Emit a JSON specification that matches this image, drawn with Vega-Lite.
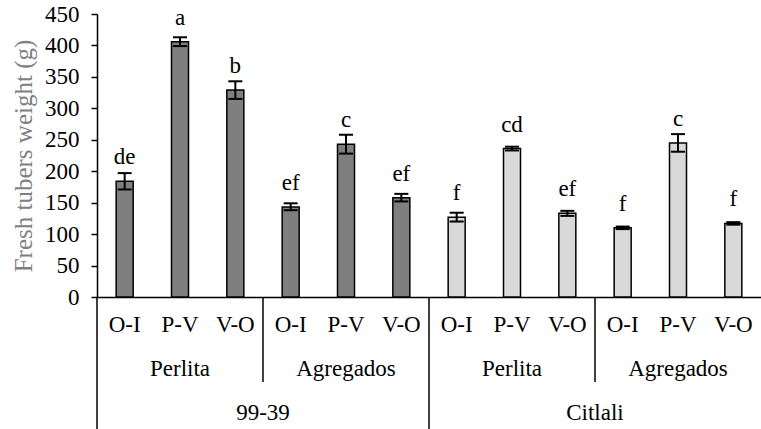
{
  "$schema": "https://vega.github.io/schema/vega-lite/v6.json",
  "width": 664,
  "height": 283,
  "autosize": {"type": "none"},
  "padding": {"left": 97, "top": 14, "right": 0, "bottom": 132},
  "background": "white",
  "config": {
    "view": {"stroke": null},
    "font": "Liberation Serif",
    "text": {"font": "Liberation Serif", "fontSize": 23, "color": "black"},
    "axisY": {
      "tickCount": 9, "labelOverlap": false, "grid": false,
      "domainColor": "black", "domainWidth": 1.5,
      "tickColor": "black", "tickSize": 6, "tickWidth": 1.5,
      "labelFont": "Liberation Serif", "labelFontSize": 23, "labelColor": "black",
      "labelPadding": 12,
      "titleFont": "Liberation Serif", "titleFontSize": 25, "titleFontWeight": "normal",
      "titleColor": "#808080", "titlePadding": 8
    },
    "axisX": {
      "labelAngle": 0, "ticks": false, "tickSize": 0,
      "domainColor": "black", "domainWidth": 1.5,
      "labelFont": "Liberation Serif", "labelFontSize": 23, "labelColor": "black",
      "labelPadding": 16, "grid": false
    }
  },
  "datasets": {
    "bars": [
      {"idx": 1, "cultivar": "99-39", "substrate": "Perlita", "treatment": "O-I", "mean": 184, "lo": 171, "hi": 197, "letter": "de"},
      {"idx": 2, "cultivar": "99-39", "substrate": "Perlita", "treatment": "P-V", "mean": 406, "lo": 399, "hi": 413, "letter": "a"},
      {"idx": 3, "cultivar": "99-39", "substrate": "Perlita", "treatment": "V-O", "mean": 329, "lo": 315, "hi": 343, "letter": "b"},
      {"idx": 4, "cultivar": "99-39", "substrate": "Agregados", "treatment": "O-I", "mean": 143, "lo": 138, "hi": 149, "letter": "ef"},
      {"idx": 5, "cultivar": "99-39", "substrate": "Agregados", "treatment": "P-V", "mean": 243, "lo": 228, "hi": 258, "letter": "c"},
      {"idx": 6, "cultivar": "99-39", "substrate": "Agregados", "treatment": "V-O", "mean": 158, "lo": 152, "hi": 164, "letter": "ef"},
      {"idx": 7, "cultivar": "Citlali", "substrate": "Perlita", "treatment": "O-I", "mean": 127, "lo": 120, "hi": 134, "letter": "f"},
      {"idx": 8, "cultivar": "Citlali", "substrate": "Perlita", "treatment": "P-V", "mean": 236, "lo": 233, "hi": 239, "letter": "cd"},
      {"idx": 9, "cultivar": "Citlali", "substrate": "Perlita", "treatment": "V-O", "mean": 133, "lo": 129, "hi": 137, "letter": "ef"},
      {"idx": 10, "cultivar": "Citlali", "substrate": "Agregados", "treatment": "O-I", "mean": 110, "lo": 108, "hi": 112, "letter": "f"},
      {"idx": 11, "cultivar": "Citlali", "substrate": "Agregados", "treatment": "P-V", "mean": 245, "lo": 231, "hi": 259, "letter": "c"},
      {"idx": 12, "cultivar": "Citlali", "substrate": "Agregados", "treatment": "V-O", "mean": 117, "lo": 115, "hi": 119, "letter": "f"}
    ],
    "substrates": [
      {"idx": 2, "label": "Perlita"},
      {"idx": 5, "label": "Agregados"},
      {"idx": 8, "label": "Perlita"},
      {"idx": 11, "label": "Agregados"}
    ],
    "cultivars": [
      {"idx": 4, "label": "99-39"},
      {"idx": 10, "label": "Citlali"}
    ],
    "seps": [
      {"idx": 1, "bottom": -212},
      {"idx": 4, "bottom": -135},
      {"idx": 7, "bottom": -212},
      {"idx": 10, "bottom": -135}
    ]
  },
  "layer": [
    {
      "data": {"name": "bars"},
      "mark": {"type": "bar", "size": 17, "stroke": "black", "strokeWidth": 1.5},
      "encoding": {
        "x": {
          "field": "idx", "type": "ordinal", "title": null,
          "scale": {"paddingInner": 0, "paddingOuter": 0},
          "axis": {"labelExpr": "['O-I','P-V','V-O'][(datum.value - 1) % 3]"}
        },
        "y": {
          "field": "mean", "type": "quantitative", "title": "Fresh tubers weight (g)",
          "scale": {"domain": [0, 450], "nice": false}
        },
        "color": {
          "field": "cultivar", "type": "nominal",
          "scale": {"domain": ["99-39", "Citlali"], "range": ["#7f7f7f", "#d9d9d9"]},
          "legend": null
        }
      }
    },
    {
      "data": {"name": "bars"},
      "mark": {"type": "rule", "color": "black", "strokeWidth": 2},
      "encoding": {
        "x": {"field": "idx", "type": "ordinal"},
        "y": {"field": "lo", "type": "quantitative"},
        "y2": {"field": "hi"}
      }
    },
    {
      "data": {"name": "bars"},
      "mark": {"type": "tick", "orient": "horizontal", "size": 14, "thickness": 2, "color": "black", "opacity": 1},
      "encoding": {
        "x": {"field": "idx", "type": "ordinal"},
        "y": {"field": "hi", "type": "quantitative"}
      }
    },
    {
      "data": {"name": "bars"},
      "mark": {"type": "tick", "orient": "horizontal", "size": 14, "thickness": 2, "color": "black", "opacity": 1},
      "encoding": {
        "x": {"field": "idx", "type": "ordinal"},
        "y": {"field": "lo", "type": "quantitative"}
      }
    },
    {
      "data": {"name": "bars"},
      "mark": {"type": "text", "baseline": "alphabetic", "dy": -17},
      "encoding": {
        "x": {"field": "idx", "type": "ordinal"},
        "y": {"field": "mean", "type": "quantitative"},
        "text": {"field": "letter"}
      }
    },
    {
      "data": {"name": "seps"},
      "mark": {"type": "rule", "color": "black", "strokeWidth": 1.5},
      "encoding": {
        "x": {"field": "idx", "type": "ordinal", "bandPosition": 0},
        "y": {"field": "bottom", "type": "quantitative"},
        "y2": {"datum": 0}
      }
    },
    {
      "data": {"name": "substrates"},
      "mark": {"type": "text", "baseline": "alphabetic"},
      "encoding": {
        "x": {"field": "idx", "type": "ordinal"},
        "y": {"datum": -126, "type": "quantitative"},
        "text": {"field": "label"}
      }
    },
    {
      "data": {"name": "cultivars"},
      "mark": {"type": "text", "baseline": "alphabetic"},
      "encoding": {
        "x": {"field": "idx", "type": "ordinal", "bandPosition": 0},
        "y": {"datum": -196, "type": "quantitative"},
        "text": {"field": "label"}
      }
    }
  ]
}
